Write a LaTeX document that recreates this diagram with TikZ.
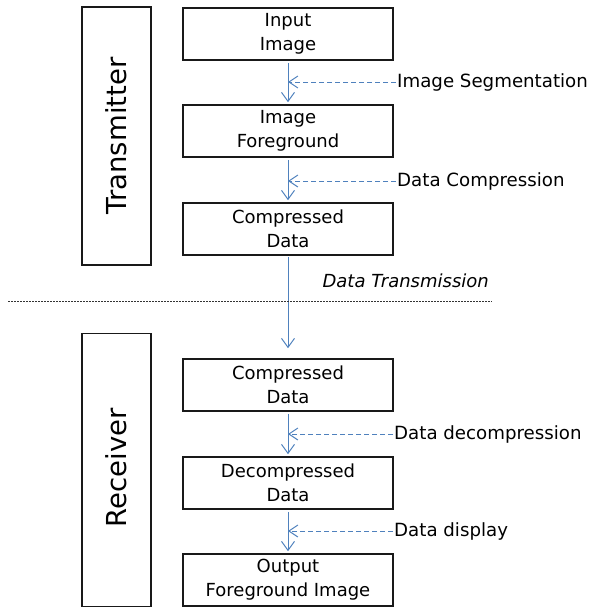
\documentclass[tikz,border=0pt]{standalone}
\usepackage{fontspec}
\setmainfont{DejaVu Sans}
\usetikzlibrary{arrows.meta}
\definecolor{flowblue}{RGB}{79,129,189}
\begin{document}
\begin{tikzpicture}[x=1pt,y=-1pt,
  box/.style={draw=black!90,line width=1.6pt,minimum width=210pt,minimum height=52pt,inner sep=0pt,align=center,font=\fontsize{18}{24}\selectfont},
  side/.style={draw=black!90,line width=1.6pt,minimum width=69pt,inner sep=0pt},
  flow/.style={draw=flowblue,line width=1pt,-{Straight Barb[length=9pt,width=13pt,line width=1pt]}},
  dflow/.style={draw=flowblue,line width=1pt,dash pattern=on 5pt off 3pt,-{Straight Barb[length=9pt,width=12pt,line width=1pt]}},
  lab/.style={anchor=west,inner sep=0pt,font=\fontsize{18.2}{20}\selectfont},
  sep/.style={draw=black!80,line width=0.7pt,dash pattern=on 2pt off 1pt}]
\useasboundingbox (0,0) rectangle (589,608);
% side boxes
\node[side,minimum height=258pt] (tx) at (116.5,136) {};
\node[rotate=90,font=\fontsize{27.5}{30}\selectfont] (txl) at (116.5,136) {Transmitter};
\node[side,minimum height=273pt] (rx) at (116.5,470) {};
\node[rotate=90,font=\fontsize{27.5}{30}\selectfont] (rxl) at (116.5,468) {Receiver};
% boxes
\node[box] (in) at (288,34) {Input\\Image};
\node[box] (fg) at (288,131) {Image\\Foreground};
\node[box] (cd) at (288,229) {Compressed\\Data};
\node[box] (cr) at (288,385) {Compressed\\Data};
\node[box] (dd) at (288,483) {Decompressed\\Data};
\node[box] (out) at (288,580) {Output\\Foreground Image};
% arrows
\draw[flow,shorten <=2pt,shorten >=2pt] (in.south) -- (fg.north);
\draw[flow,shorten <=2pt,shorten >=2pt] (fg.south) -- (cd.north);
\draw[flow,shorten <=1pt,shorten >=10pt] (cd.south) -- (cr.north);
\draw[flow,shorten <=2pt,shorten >=2pt] (cr.south) -- (dd.north);
\draw[flow,shorten <=2pt,shorten >=2pt] (dd.south) -- (out.north);
% labels
\node[lab] (l1) at (397,82) {Image Segmentation};
\node[lab] (l2) at (397,181) {Data Compression};
\node[lab] (l3) at (394,434) {Data decompression};
\node[lab] (l4) at (394,531) {Data display};
\draw[dflow,shorten <=1pt] (l1.west) -- (l1.west -| in.center);
\draw[dflow,shorten <=1pt] (l2.west) -- (l2.west -| in.center);
\draw[dflow,shorten <=1pt] (l3.west) -- (l3.west -| in.center);
\draw[dflow,shorten <=1pt] (l4.west) -- (l4.west -| in.center);
% separator
\node[anchor=east,inner sep=0pt,font=\fontsize{18}{20}\selectfont\itshape] (dt) at (489,281) {Data Transmission};
\coordinate (s1) at (8,301);
\coordinate (s2) at (492,301);
\draw[sep] (s1) -- (s2);
\end{tikzpicture}
\end{document}
